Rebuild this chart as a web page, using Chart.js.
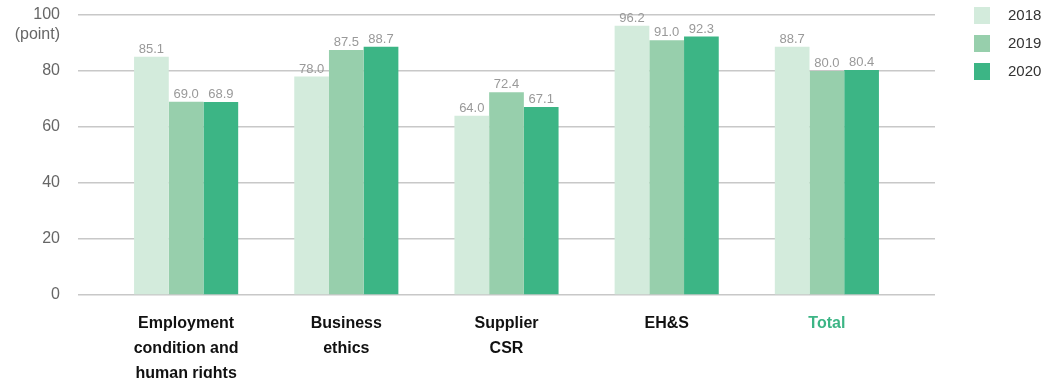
<!DOCTYPE html>
<html>
<head>
<meta charset="utf-8">
<script src="https://cdn.jsdelivr.net/npm/chart.js@4"></script>
<style>
  html, body { margin: 0; padding: 0; background: #fff; }
  #wrap { width: 1062px; height: 378px; position: relative; }
</style>
</head>
<body>
<div id="wrap"><canvas id="grafico"></canvas></div>
<script>
const categories = [
  ["Employment", "condition and", "human rights"],
  ["Business", "ethics"],
  ["Supplier", "CSR"],
  ["EH&S"],
  ["Total"]
];
const years = ["2018", "2019", "2020"];
const data2018 = [85.1, 78.0, 64.0, 96.2, 88.7];
const data2019 = [69.0, 87.5, 72.4, 91.0, 80.0];
const data2020 = [68.9, 88.7, 67.1, 92.3, 80.4];
const yTicks = [0, 20, 40, 60, 80, 100];
const colors = ["#d3ebdc", "#97cfac", "#3cb585"];

const FONT = "'Liberation Sans', Arial, sans-serif";

function toPoints(arr) {
  return arr.map(function (v, i) { return { x: i, y: v }; });
}

const valueLabels = {
  id: "valueLabels",
  afterDatasetsDraw(chart) {
    const ctx = chart.ctx;
    ctx.save();
    ctx.font = "13px " + FONT;
    ctx.fillStyle = "#999";
    ctx.textAlign = "center";
    ctx.textBaseline = "bottom";
    chart.data.datasets.forEach(function (ds, di) {
      chart.getDatasetMeta(di).data.forEach(function (bar, i) {
        ctx.fillText(ds.data[i].y.toFixed(1), bar.x, bar.y - 1);
      });
    });
    ctx.restore();
  }
};

const extras = {
  id: "extras",
  afterDraw(chart) {
    const ctx = chart.ctx;
    ctx.save();
    // unit label
    ctx.font = "16px " + FONT;
    ctx.fillStyle = "#666";
    ctx.textAlign = "right";
    ctx.textBaseline = "middle";
    ctx.fillText("(point)", 60, 35);
    // legend
    ctx.textAlign = "left";
    ctx.font = "15px " + FONT;
    chart.data.datasets.forEach(function (ds, i) {
      const y = 7 + i * 28;
      ctx.fillStyle = ds.backgroundColor;
      ctx.fillRect(974, y, 16, 17);
      ctx.fillStyle = "#333";
      ctx.fillText(ds.label, 1008, y + 9);
    });
    ctx.restore();
  }
};

new Chart(document.getElementById("grafico").getContext("2d"), {
  type: "bar",
  data: {
    datasets: [
      { label: years[0], data: toPoints(data2018), backgroundColor: colors[0] },
      { label: years[1], data: toPoints(data2019), backgroundColor: colors[1] },
      { label: years[2], data: toPoints(data2020), backgroundColor: colors[2] }
    ]
  },
  options: {
    responsive: true,
    maintainAspectRatio: false,
    animation: false,
    layout: { padding: { left: 0, right: 127, top: 15, bottom: 0 } },
    datasets: { bar: { barPercentage: 1, categoryPercentage: 0.65 } },
    plugins: {
      legend: { display: false },
      tooltip: { enabled: false }
    },
    scales: {
      x: {
        type: "linear",
        offset: false,
        min: -0.675,
        max: 4.675,
        grid: { display: false },
        border: { display: false },
        afterBuildTicks: function (scale) {
          scale.ticks = categories.map(function (c, i) { return { value: i }; });
        },
        afterFit: function (scale) { scale.height = 83; },
        ticks: {
          autoSkip: false,
          maxRotation: 0,
          padding: 8,
          font: { family: FONT, size: 16, weight: "bold", lineHeight: 1.5625 },
          color: function (c) { return c.index === 4 ? "#3cb585" : "#111"; },
          callback: function (v) { return categories[v]; }
        }
      },
      y: {
        min: 0,
        max: 100,
        afterBuildTicks: function (scale) {
          scale.ticks = yTicks.map(function (v) { return { value: v }; });
        },
        afterFit: function (scale) {
          scale.width = 78;
          scale.paddingTop = 0;
          scale.paddingBottom = 0;
        },
        grid: { color: "#c8c8c8", lineWidth: 1.5, drawTicks: false },
        border: { display: false },
        ticks: {
          padding: 18,
          color: "#666",
          font: { family: FONT, size: 16 }
        }
      }
    }
  },
  plugins: [valueLabels, extras]
});
</script>
</body>
</html>
